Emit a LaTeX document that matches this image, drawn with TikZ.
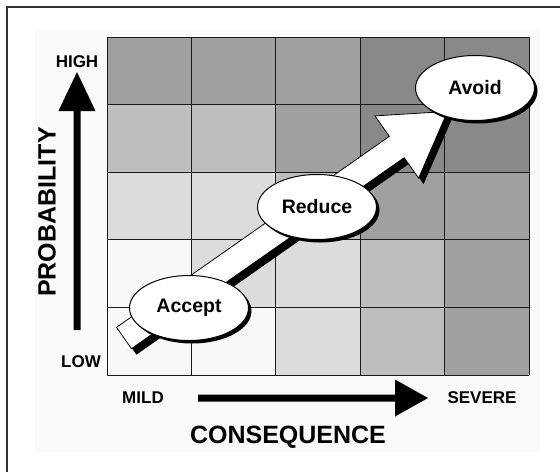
\documentclass[tikz,border=0pt]{standalone}
\usepackage{fontspec}
\setmainfont{Liberation Sans}
\usetikzlibrary{shapes.geometric,shadows}
\definecolor{Lzero}{HTML}{F8F8F8}
\definecolor{Lone}{HTML}{DCDCDC}
\definecolor{Ltwo}{HTML}{BEBEBE}
\definecolor{Lthree}{HTML}{A0A0A0}
\definecolor{Lfour}{HTML}{898989}
\definecolor{framegray}{HTML}{333333}
\definecolor{bggray}{HTML}{FAFAFA}
\tikzset{
  ell/.style={ellipse, draw=black, line width=1pt, fill=white,
    minimum width=119pt, minimum height=65pt, inner sep=0pt,
    font=\bfseries\fontsize{19.5}{20}\selectfont,
    drop shadow={shadow xshift=3pt, shadow yshift=-3pt, fill=black, opacity=1}},
  small/.style={font=\bfseries\fontsize{17}{18}\selectfont, inner sep=0pt},
  big/.style={font=\bfseries\fontsize{25}{26}\selectfont, inner sep=0pt},
  cell/.style={draw=black!90, line width=0.8pt},
}
\begin{document}
\begin{tikzpicture}[x=1pt,y=-1pt]
\useasboundingbox (0,0) rectangle (560,472);
\fill[white] (0,0) rectangle (560,472);
\fill[bggray] (35,30) rectangle (540,452);
\draw[framegray, line width=2pt] (7,472) -- (7,7) -- (560,7);
% grid
\def\xs{{107,191.4,275.8,360.2,444.6,529}}
\def\ys{{37,104.6,172.2,239.8,307.4,375}}
\foreach \r/\cols in {0/{Lthree,Lthree,Lthree,Lfour,Lfour},
                      1/{Ltwo,Ltwo,Lthree,Lfour,Lfour},
                      2/{Lone,Lone,Ltwo,Lthree,Lthree},
                      3/{Lzero,Lone,Lone,Ltwo,Lthree},
                      4/{Lzero,Lzero,Lone,Ltwo,Lthree}}{
  \foreach \c [count=\i from 0] in \cols {
    \pgfmathsetmacro\xa{\xs[\i]}
    \pgfmathsetmacro\xb{\xs[\i+1]}
    \pgfmathsetmacro\ya{\ys[\r]}
    \pgfmathsetmacro\yb{\ys[\r+1]}
    \fill[\c] (\xa,\ya) rectangle (\xb,\yb);
  }
}
\foreach \i in {0,...,5}{
  \pgfmathsetmacro\xa{\xs[\i]}
  \pgfmathsetmacro\ya{\ys[\i]}
  \draw[cell] (\xa,37) -- (\xa,375);
  \draw[cell] (107,\ya) -- (529,\ya);
}
% big arrow: shadow then white
\begin{scope}[shift={(129,344)}, rotate=35]
  \fill[black] (0,-13) -- (333,-13) -- (333,-38) -- (395,0) -- (333,38) -- (333,13) -- (0,13) -- cycle;
\end{scope}
\begin{scope}[shift={(124,338)}, rotate=35]
  \filldraw[fill=white, draw=black, line width=0.8pt] (0,-13) -- (333,-13) -- (333,-38) -- (395,0) -- (333,38) -- (333,13) -- (0,13) -- cycle;
\end{scope}
% ellipses
\node[ell] (accept) at (189,308) {Accept};
\node[ell] (reduce) at (317,207) {Reduce};
\node[ell] (avoid) at (475,88) {Avoid};
% probability axis
\fill[black] (73.5,330) -- (73.5,111) -- (58.5,111) -- (77,72) -- (95.5,111) -- (80.5,111) -- (80.5,330) -- cycle;
\node[small] (high) at (77,62) {HIGH};
\node[small] (low) at (81,362) {LOW};
\node[big, rotate=90] (prob) at (47,212) {PROBABILITY};
% consequence axis
\fill[black] (198,394.5) -- (395,394.5) -- (395,379.5) -- (428,398) -- (395,416.5) -- (395,401.5) -- (198,401.5) -- cycle;
\node[small] (mild) at (143,398) {MILD};
\node[small] (severe) at (482,398) {SEVERE};
\node[big] (cons) at (288,437) {CONSEQUENCE};
\end{tikzpicture}
\end{document}
